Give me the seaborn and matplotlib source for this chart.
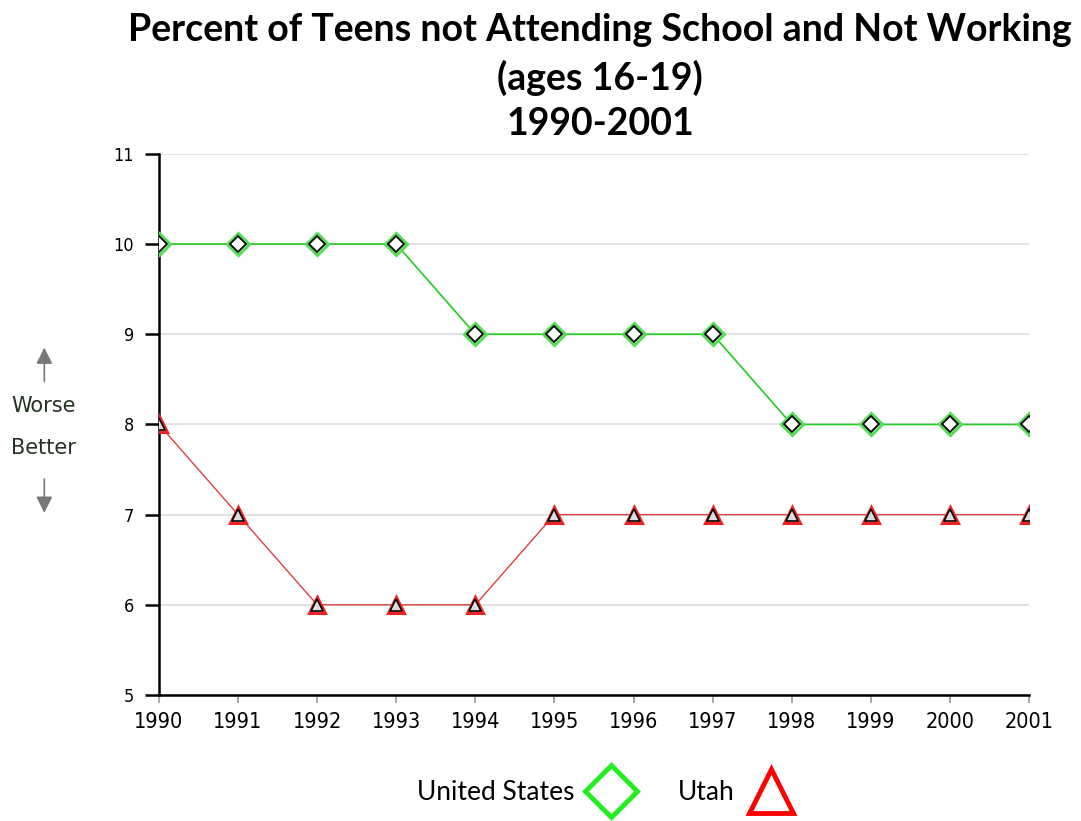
import matplotlib
matplotlib.use("Agg")
import matplotlib.pyplot as plt
from matplotlib.lines import Line2D
from matplotlib.patches import FancyArrowPatch
import seaborn as sns
import pandas as pd

years = list(range(1990, 2002))
us_values = [10, 10, 10, 10, 9, 9, 9, 9, 8, 8, 8, 8]
utah_values = [8, 7, 6, 6, 6, 7, 7, 7, 7, 7, 7, 7]

df = pd.DataFrame({"year": years, "United States": us_values, "Utah": utah_values})

sns.set_style("white")
plt.rcParams['font.family'] = ['DejaVu Sans']
plt.rcParams['text.color'] = 'black'
plt.rcParams['xtick.color'] = 'black'
plt.rcParams['ytick.color'] = 'black'

fig = plt.figure(figsize=(10.81, 8.21), dpi=100)
ax = fig.add_axes([0.147, 0.1535, 0.805, 0.659])

# green glow + black diamond markers
sns.lineplot(data=df, x="year", y="United States", ax=ax, color="#22cc22", lw=1.2,
             marker="D", markersize=11, markerfacecolor="white", markeredgecolor="#55dd55",
             markeredgewidth=2.2, zorder=3)
sns.lineplot(data=df, x="year", y="United States", ax=ax, lw=0,
             marker="D", markersize=8, markerfacecolor="white", markeredgecolor="black",
             markeredgewidth=1.3, zorder=4)
sns.lineplot(data=df, x="year", y="Utah", ax=ax, color="#e04040", lw=1.0,
             marker="^", markersize=11, markerfacecolor="white", markeredgecolor="#ee2222",
             markeredgewidth=2.2, zorder=3)
sns.lineplot(data=df, x="year", y="Utah", ax=ax, lw=0,
             marker="^", markersize=8, markerfacecolor="#dddddd", markeredgecolor="black",
             markeredgewidth=1.2, zorder=4)

ax.set_xlim(1990, 2001)
ax.set_ylim(5, 11)
ax.set_xticks(years)
ax.set_yticks(range(5, 12))
ax.set_xlabel("")
ax.set_ylabel("")
ax.yaxis.grid(True, color="#dddddd", lw=1.2)
ax.set_axisbelow(True)
for s in ["top", "right"]:
    ax.spines[s].set_visible(False)
for s in ["left", "bottom"]:
    ax.spines[s].set_color("black")
    ax.spines[s].set_linewidth(1.8)
ax.tick_params(axis="y", left=True, length=10, width=1.8, color="black", pad=8)
ax.tick_params(axis="x", bottom=True, length=6, width=1.2, color="#999999", pad=6)
for lab in ax.get_xticklabels():
    lab.set_fontsize(15.5)
    lab.set_fontstretch("condensed")
for lab in ax.get_yticklabels():
    lab.set_fontsize(13)
    lab.set_fontstretch("condensed")

title_kw = dict(ha="center", va="center", fontsize=27, fontweight="bold", family=["Lato", "DejaVu Sans"])
fig.text(0.555, 0.963, "Percent of Teens not Attending School and Not Working", **title_kw)
fig.text(0.555, 0.905, "(ages 16-19)", **title_kw)
fig.text(0.555, 0.849, "1990-2001", **title_kw)

# Worse / Better side note
fig.text(0.040, 0.506, "Worse", ha="center", va="center", fontsize=15, color="#223322")
fig.text(0.040, 0.454, "Better", ha="center", va="center", fontsize=15, color="#223322")
arrow_kw = dict(arrowstyle="-|>,head_length=0.7,head_width=0.35", color="#777777",
                lw=1.2, mutation_scale=14, transform=fig.transFigure)
fig.patches.append(FancyArrowPatch((0.041, 0.532), (0.041, 0.580), **arrow_kw))
fig.patches.append(FancyArrowPatch((0.041, 0.420), (0.041, 0.372), **arrow_kw))

handles = [
    Line2D([], [], lw=0, marker="D", markersize=26, markerfacecolor="white",
           markeredgecolor="#22ee22", markeredgewidth=3.5),
    Line2D([], [], lw=0, marker="^", markersize=32, markerfacecolor="white",
           markeredgecolor="#ff0000", markeredgewidth=3.5),
]
fig.legend(handles, ["United States", "Utah"], loc="center", bbox_to_anchor=(0.563, 0.035),
           ncol=2, frameon=False, markerfirst=False,
           prop={"family": ["Lato", "DejaVu Sans"], "size": 19},
           handletextpad=0.3, columnspacing=1.4, handlelength=2.2)

fig.savefig("out.png", dpi=100)
